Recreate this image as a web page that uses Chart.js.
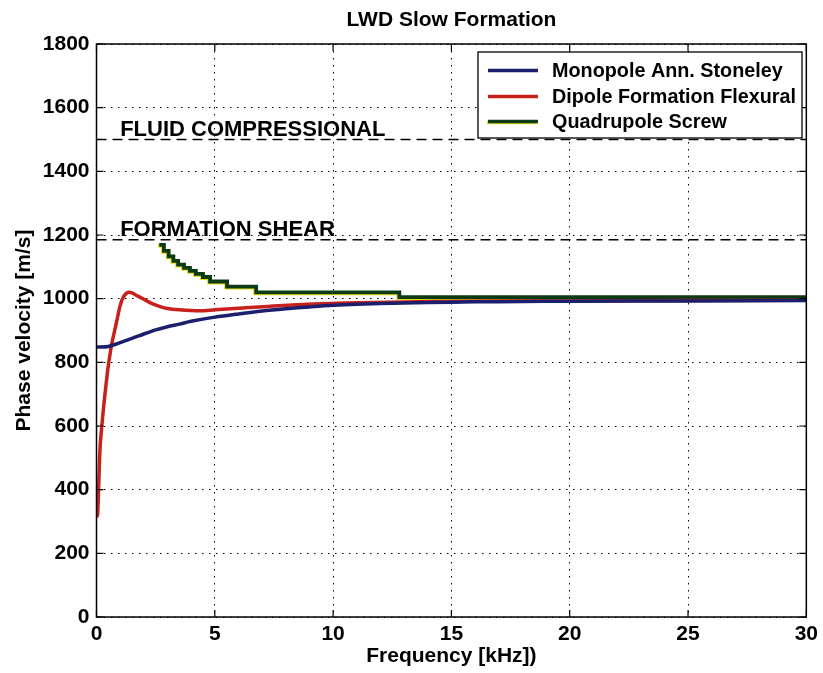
<!DOCTYPE html>
<html><head><meta charset="utf-8">
<script src="https://cdn.jsdelivr.net/npm/chart.js@4.4.1/dist/chart.umd.min.js"></script>
<style>html,body{margin:0;padding:0;background:#fff;}canvas{display:block;}</style>
</head><body>
<canvas id="c" width="823" height="673"></canvas>
<script>
const chartTitle = 'LWD Slow Formation';
const xTitle = 'Frequency [kHz])';
const yTitle = 'Phase velocity [m/s]';
const seriesNames = ['Monopole Ann. Stoneley', 'Dipole Formation Flexural', 'Quadrupole Screw'];
const seriesColors = ['#1b1f6e', '#c8211b', '#0c3a14'];

const monoFreq = [0, 0.5, 1, 1.5, 2, 2.5, 3, 3.5, 4, 5, 6, 7, 8, 9, 10, 12, 14, 16, 18, 20, 25, 30];
const monoVel  = [848, 850, 862, 875, 889, 902, 912, 920, 929, 942, 952, 961, 968, 974, 979, 985, 988, 990, 991, 992, 993, 994];

const dipFreq = [0, 0.05, 0.15, 0.25, 0.34, 0.45, 0.52, 0.65, 0.76, 0.9, 0.97, 1.1, 1.25, 1.36, 1.5, 1.7, 2.0, 2.3, 2.66, 3.0, 3.5, 4.35, 5, 6, 7.7, 10.5, 14.2, 20, 30];
const dipVel  = [313, 324, 531, 620, 688, 760, 800, 860, 897, 945, 970, 1000, 1016, 1020, 1018, 1010, 998, 986, 976, 969, 965, 962, 965, 970, 978, 986, 991, 993, 995];

const quadFreq = [2.65, 2.85, 3.05, 3.25, 3.45, 3.7, 3.95, 4.2, 4.5, 4.8, 5.52, 6.75, 12.8, 30];
const quadVel  = [1169, 1150, 1133, 1119, 1107, 1097, 1087, 1078, 1068, 1054, 1038, 1020, 1005, 1005];

const refLevels = [1500, 1185];
const refLabels = ['FLUID COMPRESSIONAL', 'FORMATION SHEAR'];
const refLabelX = 1.0;

const xTicks = [0, 5, 10, 15, 20, 25, 30];
const yTicks = [0, 200, 400, 600, 800, 1000, 1200, 1400, 1600, 1800];

const FONT = "'Liberation Sans', Arial, Helvetica, sans-serif";
const pts = (xs, ys) => xs.map((x, i) => ({x: x, y: ys[i]}));

const datasets = [
  {label: seriesNames[0], data: pts(monoFreq, monoVel), borderColor: seriesColors[0], borderWidth: 3.5, pointRadius: 0, tension: 0.3, fill: false},
  {label: seriesNames[1], data: pts(dipFreq, dipVel), borderColor: seriesColors[1], borderWidth: 3.5, pointRadius: 0, tension: 0.3, fill: false},
  {label: seriesNames[2], data: pts(quadFreq, quadVel), borderColor: seriesColors[2], borderWidth: 3.8, pointRadius: 0, stepped: 'before', fill: false}
];
refLevels.forEach((lv, i) => datasets.push({
  label: refLabels[i], ref: true,
  data: [{x: xTicks[0], y: lv}, {x: xTicks[xTicks.length - 1], y: lv}],
  borderColor: '#000', borderWidth: 1.6, borderDash: [10, 6], pointRadius: 0, fill: false
}));

const decor = {
  id: 'decor',
  beforeDatasetDraw(chart, args) {
    if (args.index === 2) {
      const ctx = chart.ctx; ctx.save();
      ctx.shadowColor = 'rgba(225,215,0,0.9)';
      ctx.shadowOffsetX = -1; ctx.shadowOffsetY = 1; ctx.shadowBlur = 0;
    }
  },
  afterDatasetDraw(chart, args) { if (args.index === 2) chart.ctx.restore(); },
  afterDraw(chart) {
    const ctx = chart.ctx, a = chart.chartArea, xs = chart.scales.x, ys = chart.scales.y;
    ctx.save();
    ctx.fillStyle = '#000';
    ctx.font = 'bold 21px ' + FONT;
    ctx.textAlign = 'center'; ctx.textBaseline = 'alphabetic';
    ctx.fillText(chartTitle, (a.left + a.right) / 2, 26);
    ctx.font = 'bold 22px ' + FONT;
    ctx.textAlign = 'left';
    refLabels.forEach((t, i) => {
      ctx.fillText(t, xs.getPixelForValue(refLabelX), ys.getPixelForValue(refLevels[i]) - 4);
    });
    ctx.setLineDash([]);
    ctx.strokeStyle = '#000'; ctx.lineWidth = 1.5;
    ctx.strokeRect(a.left, a.top, a.right - a.left, a.bottom - a.top);
    ctx.lineWidth = 1.2;
    ctx.beginPath();
    xTicks.forEach(v => {
      const p = xs.getPixelForValue(v);
      ctx.moveTo(p, a.bottom); ctx.lineTo(p, a.bottom - 7);
      ctx.moveTo(p, a.top); ctx.lineTo(p, a.top + 7);
    });
    yTicks.forEach(v => {
      const p = ys.getPixelForValue(v);
      ctx.moveTo(a.left, p); ctx.lineTo(a.left + 7, p);
      ctx.moveTo(a.right, p); ctx.lineTo(a.right - 7, p);
    });
    ctx.stroke();
    const bx = 478, by = 52, bw = 324, bh = 86;
    ctx.fillStyle = '#fff';
    ctx.fillRect(bx, by, bw, bh);
    ctx.strokeStyle = '#000'; ctx.lineWidth = 1.3;
    ctx.strokeRect(bx, by, bw, bh);
    ctx.font = 'bold 19.8px ' + FONT;
    ctx.textBaseline = 'middle';
    const rows = [70.5, 96.5, 121.5];
    chart.data.datasets.filter(d => !d.ref).forEach((d, i) => {
      if (i === 2) { ctx.strokeStyle = 'rgba(225,215,0,0.9)'; ctx.lineWidth = 3.5; ctx.beginPath(); ctx.moveTo(487, rows[i] + 1); ctx.lineTo(537, rows[i] + 1); ctx.stroke(); }
      ctx.strokeStyle = d.borderColor; ctx.lineWidth = 3.5;
      ctx.beginPath(); ctx.moveTo(488, rows[i]); ctx.lineTo(538, rows[i]); ctx.stroke();
      ctx.fillStyle = '#000';
      ctx.fillText(d.label, 552, rows[i] + 1);
    });
    ctx.restore();
  }
};

new Chart(document.getElementById('c'), {
  type: 'line',
  data: {datasets: datasets},
  plugins: [decor],
  options: {
    responsive: false, animation: false, devicePixelRatio: 1,
    layout: {padding: {left: 0, right: 15, top: 44, bottom: 0}},
    plugins: {
      legend: {display: false},
      tooltip: {enabled: false},
      title: {display: false}
    },
    scales: {
      x: {
        type: 'linear', min: 0, max: 30,
        afterFit(s) { s.height = 56; },
        afterBuildTicks(s) { s.ticks = xTicks.map(v => ({value: v})); },
        ticks: {color: '#000', font: {family: FONT, size: 21, weight: 'bold'}, padding: 5, maxRotation: 0, autoSkip: false, callback: v => String(v)},
        grid: {color: '#000', lineWidth: 1, drawTicks: false},
        border: {display: false, dash: [1.5, 5.5]},
        title: {display: true, text: xTitle, color: '#000', font: {family: FONT, size: 21, weight: 'bold'}, padding: {top: 0, bottom: 4}}
      },
      y: {
        type: 'linear', min: 0, max: 1800,
        afterFit(s) { s.width = 96.5; },
        afterBuildTicks(s) { s.ticks = yTicks.map(v => ({value: v})); },
        ticks: {color: '#000', font: {family: FONT, size: 21, weight: 'bold'}, padding: 7, autoSkip: false, callback: v => String(v)},
        grid: {color: '#000', lineWidth: 1, drawTicks: false},
        border: {display: false, dash: [1.5, 5.5]},
        title: {display: true, text: yTitle, color: '#000', font: {family: FONT, size: 21, weight: 'bold'}, padding: {top: 12, bottom: 0}}
      }
    }
  }
});
</script>
</body></html>
